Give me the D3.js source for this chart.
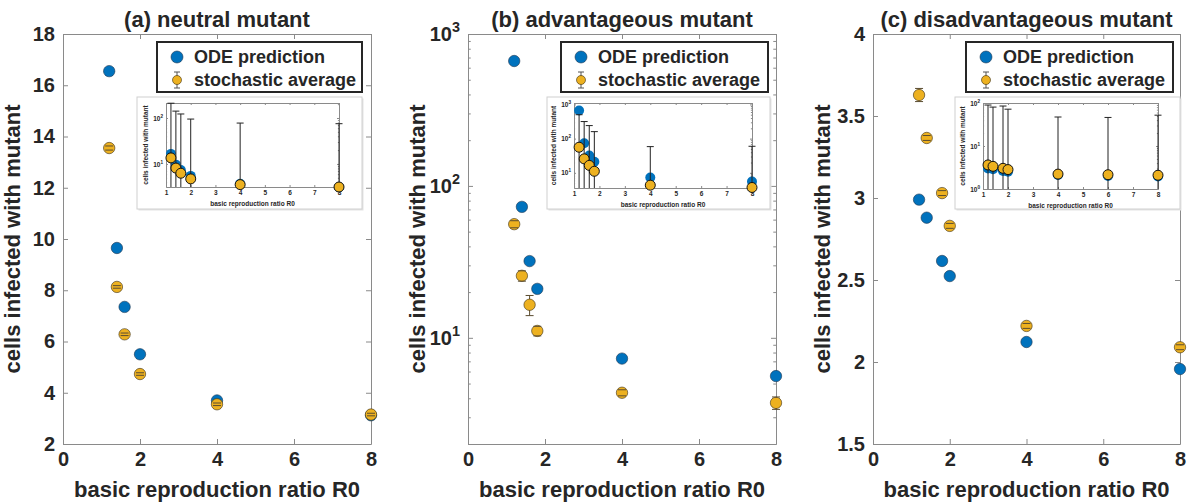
<!DOCTYPE html>
<html>
<head>
<meta charset="utf-8">
<script src="https://cdn.jsdelivr.net/npm/d3@7"></script>
<style>
body { margin: 0; background: #fff; }
text { font-family: "Liberation Sans", Arial, Helvetica, sans-serif; font-weight: bold; fill: #262626; }
</style>
</head>
<body>
<svg id="fig" width="1199" height="503"></svg>
<script>
// ---- data ----
var titles = ["(a) neutral mutant", "(b) advantageous mutant", "(c) disadvantageous mutant"];
var xLabel = "basic reproduction ratio R0";
var yLabel = "cells infected with mutant";
var legendLabels = ["ODE prediction", "stochastic average"];

// (a) neutral
var r0A   = [1.2, 1.4, 1.6, 2, 4, 8];
var odeA  = [16.55, 9.65, 7.35, 5.5, 3.7, 3.12];
var meanA = [13.55, 8.13, 6.28, 4.73, 3.55, 3.15];
var semA  = [0.08, 0.05, 0.05, 0.05, 0.05, 0.05];
var sdA   = [196, 133, 116, 90, 74, 72];

// (b) advantageous
var r0B   = [1.2, 1.4, 1.6, 1.8, 4, 8];
var odeB  = [664, 72.8, 32, 21, 7.3, 5.6];
var meanB = [56, 25.6, 16.5, 11.1, 4.35, 3.73];
var semB  = [3, 2, 2.5, 0.8, 0.2, 0.35];
var sdB   = [444, 290, 224, 149, 54, 56];

// (c) disadvantageous
var r0C   = [1.2, 1.4, 1.8, 2, 4, 8];
var odeC  = [2.99, 2.88, 2.616, 2.524, 2.122, 1.957];
var meanC = [3.628, 3.366, 3.03, 2.83, 2.22, 2.09];
var semC  = [0.04, 0.015, 0.015, 0.015, 0.015, 0.015];
// inset of (c) also has R0 = 6
var r0InsetC   = [1.2, 1.4, 1.8, 2, 4, 6, 8];
var odeInsetC  = [2.99, 2.88, 2.616, 2.524, 2.122, 2.0, 1.957];
var meanInsetC = [3.628, 3.366, 3.03, 2.83, 2.22, 2.15, 2.09];
var sdInsetC   = [86, 77, 82, 69, 45, 44, 50];

var mainXTicks = [0, 2, 4, 6, 8];
var insetXTicks = [1, 2, 3, 4, 5, 6, 7, 8];
var yTicksA = [2, 4, 6, 8, 10, 12, 14, 16, 18];
var yTicksB = [10, 100, 1000];
var yTicksC = [1.5, 2, 2.5, 3, 3.5, 4];

var blue = "#0072BD", orange = "#EDB120", axisColor = "#8a8a8a";

var svg = d3.select("#fig");

var panels = [
  { title: titles[0], r0: r0A, ode: odeA, mean: meanA, sem: semA, log: false,
    ydom: [2, 18], yticks: yTicksA, box: [63, 371, 34, 444],
    inset: { r0: r0A, ode: odeA, mean: meanA, sd: sdA, ydom: [3.15, 212], yticks: [10, 100],
             outer: [137, 362, 97, 209], box: [166, 339, 103, 187] },
    legend: [157, 362, 42, 92] },
  { title: titles[1], r0: r0B, ode: odeB, mean: meanB, sem: semB, log: true,
    ydom: [2, 1000], yticks: yTicksB, box: [468, 776, 34, 444],
    inset: { r0: r0B, ode: odeB, mean: meanB, sd: sdB, ydom: [3.6, 1100], yticks: [10, 100, 1000],
             outer: [547, 770, 97, 209], box: [574, 752, 103, 188] },
    legend: [561, 768, 42, 92] },
  { title: titles[2], r0: r0C, ode: odeC, mean: meanC, sem: semC, log: false,
    ydom: [1.5, 4], yticks: yTicksC, box: [873, 1180, 34, 444],
    inset: { r0: r0InsetC, ode: odeInsetC, mean: meanInsetC, sd: sdInsetC, ydom: [1, 100], yticks: [1, 10, 100],
             outer: [955, 1180, 97, 209], box: [983, 1158, 103, 189] },
    legend: [966, 1173, 42, 92] }
];

function logMinors(dom) {
  var out = [];
  for (var e = -1; e < 4; ++e) {
    for (var k = 2; k < 10; ++k) {
      var v = k * Math.pow(10, e);
      if (v >= dom[0] && v <= dom[1]) out.push(v);
    }
  }
  return out;
}

function superscriptLabels(sel, fs) {
  sel.selectAll(".tick text").each(function(d) {
    var t = d3.select(this);
    var ex = Math.round(Math.log10(d));
    t.text("");
    t.append("tspan").text("10");
    t.append("tspan").attr("dy", -fs * 0.45).attr("font-size", fs * 0.72).text(ex);
  });
}

// draws an axes box with inward ticks on all four sides
function drawAxes(g, x, y, xticks, yticks, isLog, ydom, fs, tick, pad) {
  var b = { l: x.range()[0], r: x.range()[1], t: y.range()[1], bt: y.range()[0] };
  g.append("g").attr("transform", "translate(0," + b.bt + ")")
    .call(d3.axisBottom(x).tickValues(xticks).tickSize(-tick).tickSizeOuter(0).tickPadding(pad).tickFormat(d3.format("d")));
  g.append("g").attr("transform", "translate(0," + b.t + ")")
    .call(d3.axisTop(x).tickValues(xticks).tickSize(-tick).tickSizeOuter(0).tickFormat(""));
  var yl = g.append("g").attr("transform", "translate(" + b.l + ",0)")
    .call(d3.axisLeft(y).tickValues(yticks).tickSize(-tick).tickSizeOuter(0).tickPadding(pad)
      .tickFormat(function(d) { return d; }));
  g.append("g").attr("transform", "translate(" + b.r + ",0)")
    .call(d3.axisRight(y).tickValues(yticks).tickSize(-tick).tickSizeOuter(0).tickFormat(""));
  if (isLog) {
    superscriptLabels(yl, fs);
    var minors = logMinors(ydom);
    g.append("g").attr("transform", "translate(" + b.l + ",0)")
      .call(d3.axisLeft(y).tickValues(minors).tickSize(-tick * 0.55).tickSizeOuter(0).tickFormat(""));
    g.append("g").attr("transform", "translate(" + b.r + ",0)")
      .call(d3.axisRight(y).tickValues(minors).tickSize(-tick * 0.55).tickSizeOuter(0).tickFormat(""));
  }
  g.selectAll(".domain, .tick line").attr("stroke", axisColor).attr("stroke-width", 1);
  g.selectAll(".tick text").attr("font-size", fs).attr("font-family", null).attr("fill", "#262626");
}

panels.forEach(function(p) {
  var g = svg.append("g");
  var x = d3.scaleLinear().domain([0, 8]).range([p.box[0], p.box[1]]);
  var y = (p.log ? d3.scaleLog() : d3.scaleLinear()).domain(p.ydom).range([p.box[3], p.box[2]]);

  drawAxes(g, x, y, mainXTicks, p.yticks, p.log, p.ydom, 20, 5, 8);

  var cx = (p.box[0] + p.box[1]) / 2;
  g.append("text").attr("x", cx).attr("y", 27).attr("text-anchor", "middle")
    .attr("font-size", 22).text(p.title);
  g.append("text").attr("x", cx).attr("y", 497).attr("text-anchor", "middle")
    .attr("font-size", 22).text(xLabel);
  g.append("text").attr("transform", "translate(" + (p.box[0] - 43) + "," + ((p.box[2] + p.box[3]) / 2) + ") rotate(-90)")
    .attr("text-anchor", "middle").attr("font-size", 22).text(yLabel);

  // ODE markers
  g.selectAll(".ode").data(p.r0).enter().append("circle")
    .attr("cx", function(d) { return x(d); })
    .attr("cy", function(d, i) { return y(p.ode[i]); })
    .attr("r", 5.7).attr("fill", blue).attr("stroke", "#1d3550").attr("stroke-width", 0.6);
  // error bar stems (standard error), under the markers
  var stems = g.append("g").attr("stroke", "#5a4c30").attr("stroke-width", 1);
  p.r0.forEach(function(d, i) {
    var xx = x(d);
    stems.append("line").attr("x1", xx).attr("x2", xx)
      .attr("y1", y(p.mean[i] - p.sem[i])).attr("y2", y(p.mean[i] + p.sem[i]));
  });
  // stochastic markers
  g.selectAll(".sto").data(p.r0).enter().append("circle")
    .attr("cx", function(d) { return x(d); })
    .attr("cy", function(d, i) { return y(p.mean[i]); })
    .attr("r", 5.7).attr("fill", orange).attr("stroke", "#3a2e10").attr("stroke-width", 0.6);
  // caps, drawn over markers
  var caps = g.append("g").attr("stroke", "#5a4c30").attr("stroke-width", 1);
  p.r0.forEach(function(d, i) {
    var lo = y(p.mean[i] - p.sem[i]), hi = y(p.mean[i] + p.sem[i]), xx = x(d);
    caps.append("line").attr("x1", xx - 4).attr("x2", xx + 4).attr("y1", lo).attr("y2", lo);
    caps.append("line").attr("x1", xx - 4).attr("x2", xx + 4).attr("y1", hi).attr("y2", hi);
  });

  // inset
  var ins = p.inset;
  var ig = svg.append("g");
  ig.append("rect").attr("x", ins.outer[0] + 1.5).attr("y", ins.outer[2] + 1.5)
    .attr("width", ins.outer[1] - ins.outer[0]).attr("height", ins.outer[3] - ins.outer[2])
    .attr("fill", "#e4e4e4");
  ig.append("rect").attr("x", ins.outer[0]).attr("y", ins.outer[2])
    .attr("width", ins.outer[1] - ins.outer[0]).attr("height", ins.outer[3] - ins.outer[2])
    .attr("fill", "#fff").attr("stroke", "#d0d0d0").attr("stroke-width", 1);
  var ix = d3.scaleLinear().domain([1, 8]).range([ins.box[0], ins.box[1]]);
  var iy = d3.scaleLog().domain(ins.ydom).range([ins.box[3], ins.box[2]]);
  drawAxes(ig, ix, iy, insetXTicks, ins.yticks, true, ins.ydom, 6.5, 2, 3);
  ig.append("text").attr("x", (ins.box[0] + ins.box[1]) / 2).attr("y", ins.box[3] + 19)
    .attr("text-anchor", "middle").attr("font-size", 6.5).text(xLabel);
  ig.append("text").attr("transform", "translate(" + (ins.box[0] - 18) + "," + ((ins.box[2] + ins.box[3]) / 2) + ") rotate(-90)")
    .attr("text-anchor", "middle").attr("font-size", 6.5).text(yLabel);

  ig.selectAll(".iode").data(ins.r0).enter().append("circle")
    .attr("cx", function(d) { return ix(d); })
    .attr("cy", function(d, i) { return iy(ins.ode[i]); })
    .attr("r", 5).attr("fill", blue).attr("stroke", "none");
  var ieb = ig.append("g").attr("stroke", "#222").attr("stroke-width", 1);
  ins.r0.forEach(function(d, i) {
    var xx = ix(d), top = iy(Math.min(ins.mean[i] + ins.sd[i], ins.ydom[1]));
    ieb.append("line").attr("x1", xx).attr("x2", xx).attr("y1", ins.box[3]).attr("y2", top);
    ieb.append("line").attr("x1", xx - 3.5).attr("x2", xx + 3.5).attr("y1", top).attr("y2", top);
  });
  ig.selectAll(".isto").data(ins.r0).enter().append("circle")
    .attr("cx", function(d) { return ix(d); })
    .attr("cy", function(d, i) { return iy(ins.mean[i]); })
    .attr("r", 5).attr("fill", orange).attr("stroke", "#111").attr("stroke-width", 1);

  // legend
  var L = p.legend;
  var lg = svg.append("g");
  lg.append("rect").attr("x", L[0]).attr("y", L[2]).attr("width", L[1] - L[0]).attr("height", L[3] - L[2])
    .attr("fill", "#fff").attr("stroke", "#262626").attr("stroke-width", 2);
  lg.append("circle").attr("cx", L[0] + 20).attr("cy", L[2] + 15).attr("r", 6)
    .attr("fill", blue).attr("stroke", "#1d3550").attr("stroke-width", 0.6);
  var ly = L[2] + 38;
  lg.append("line").attr("x1", L[0] + 20).attr("x2", L[0] + 20).attr("y1", ly - 8).attr("y2", ly + 8)
    .attr("stroke", "#555").attr("stroke-width", 1);
  lg.append("line").attr("x1", L[0] + 17).attr("x2", L[0] + 23).attr("y1", ly - 8).attr("y2", ly - 8)
    .attr("stroke", "#555").attr("stroke-width", 1);
  lg.append("line").attr("x1", L[0] + 17).attr("x2", L[0] + 23).attr("y1", ly + 8).attr("y2", ly + 8)
    .attr("stroke", "#555").attr("stroke-width", 1);
  lg.append("circle").attr("cx", L[0] + 20).attr("cy", ly).attr("r", 4.5)
    .attr("fill", orange).attr("stroke", "#3a2e10").attr("stroke-width", 0.6);
  lg.selectAll(".lt").data(legendLabels).enter().append("text")
    .attr("x", L[0] + 37).attr("y", function(d, i) { return L[2] + 15 + i * 23; })
    .attr("dy", "0.36em").attr("font-size", 18).text(function(d) { return d; });
});
</script>
</body>
</html>
